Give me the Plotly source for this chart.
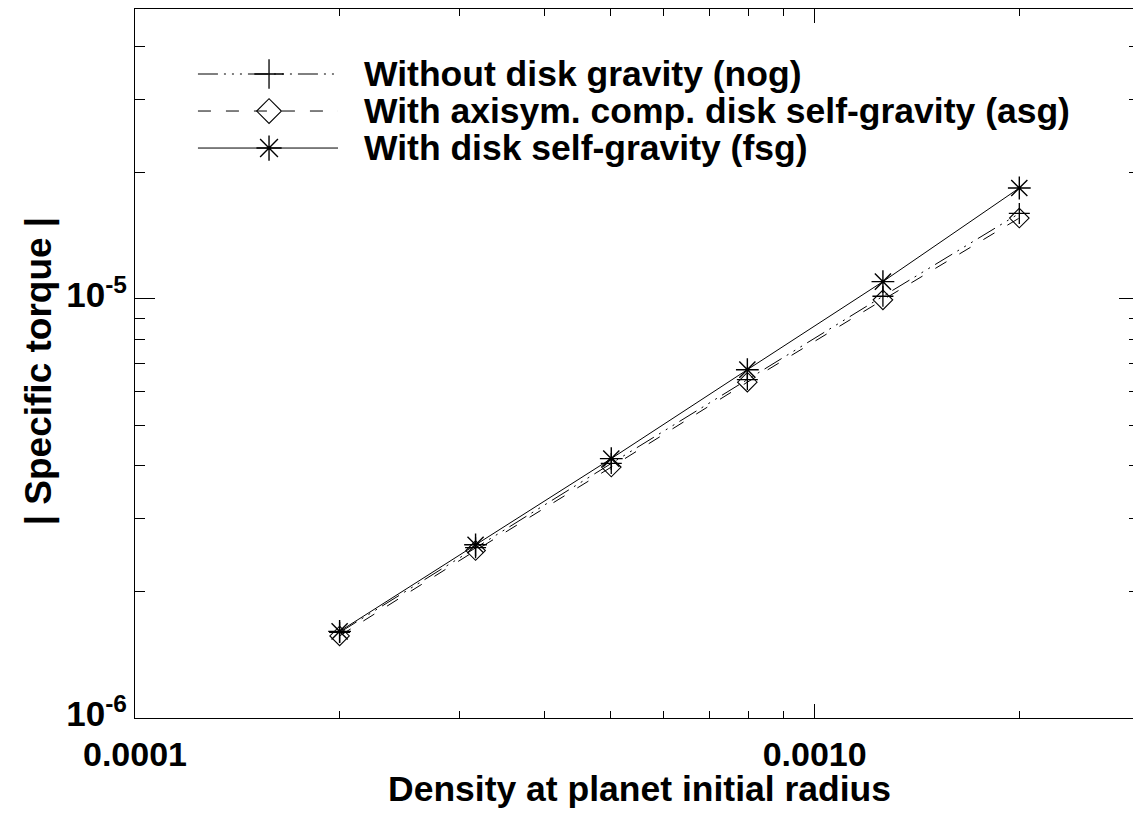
import numpy as np
import plotly.graph_objects as go

# ---- data ----
density = [0.0002, 0.000317, 0.000502, 0.000796, 0.00126, 0.002]
torque_nog = [1.60e-6, 2.55e-6, 4.05e-6, 6.42e-6, 1.015e-5, 1.60e-5]
torque_asg = [1.57e-6, 2.51e-6, 3.97e-6, 6.33e-6, 9.95e-6, 1.56e-5]
torque_fsg = [1.61e-6, 2.59e-6, 4.16e-6, 6.78e-6, 1.10e-5, 1.84e-5]

series_names = [
    "Without disk gravity (nog)",
    "With axisym. comp. disk self-gravity (asg)",
    "With disk self-gravity (fsg)",
]

x_tickvals = [1e-4, 1e-3]
x_ticktext = ["0.0001", "0.0010"]
x_minor = [2e-4, 3e-4, 4e-4, 5e-4, 6e-4, 7e-4, 8e-4, 9e-4, 2e-3]
y_tickvals = [1e-6, 1e-5]
y_ticktext = ["10<sup>-6</sup>", "10<sup>-5</sup>"]
y_minor = [2e-6, 3e-6, 4e-6, 5e-6, 6e-6, 7e-6, 8e-6, 9e-6, 2e-5, 3e-5, 4e-5]

x_range = [1e-4, 3e-3]
y_range = [1e-6, 4.92e-5]

x_title = "Density at planet initial radius"
y_title = "| Specific torque |"

# ---- styles ----
FONT = "Liberation Sans, Arial, Helvetica, sans-serif"
dash_nog = "20px,6px,2px,6px,2px,6px,2px,6px"
dash_asg = "13px,15px"
styles = [
    dict(dash=dash_nog, symbol="cross-thin-open", size=15, lsize=21, mlw=1.3),
    dict(dash=dash_asg, symbol="diamond-open", size=15, lsize=19, mlw=1.1),
    dict(dash="solid", symbol="asterisk-open", size=19, lsize=21, mlw=1.4),
]

fig = go.Figure()
for ys, st in zip([torque_nog, torque_asg, torque_fsg], styles):
    fig.add_trace(go.Scatter(
        x=density, y=ys, mode="lines+markers",
        line=dict(color="black", width=1, dash=st["dash"]),
        marker=dict(symbol=st["symbol"], size=st["size"], color="black",
                    line=dict(color="black", width=st["mlw"])),
        showlegend=False,
    ))

# ---- custom legend (IDL style) ----
leg_x0, leg_x1, leg_xm = 0.0627, 0.2022, 0.1335
leg_text_x = 0.226
leg_rows = [0.9083, 0.8561, 0.8039]
for name, st, yy in zip(series_names, styles, leg_rows):
    fig.add_shape(type="line", xref="paper", yref="paper",
                  x0=leg_x0, x1=leg_x1, y0=yy, y1=yy,
                  line=dict(color="black", width=1, dash=st["dash"]))
    fig.add_trace(go.Scatter(
        x=[leg_xm], y=[yy], xaxis="x2", yaxis="y2", mode="markers",
        marker=dict(symbol=st["symbol"], size=st["lsize"], color="black",
                    line=dict(color="black", width=st["mlw"])),
        showlegend=False, hoverinfo="skip",
    ))
    fig.add_annotation(x=leg_text_x, y=yy, xref="paper", yref="paper",
                       text=name, showarrow=False, xanchor="left", yanchor="middle",
                       font=dict(family=FONT, size=35.5, color="black", weight="bold"))

# ---- axis titles ----
fig.add_annotation(x=0.502, y=-0.100, xref="paper", yref="paper", text=x_title,
                   showarrow=False, xanchor="center", yanchor="middle",
                   font=dict(family=FONT, size=35.5, color="black", weight="bold"))
fig.add_annotation(x=-0.0956, y=0.489, xref="paper", yref="paper", text=y_title,
                   showarrow=False, xanchor="center", yanchor="middle", textangle=-90,
                   font=dict(family=FONT, size=37, color="black", weight="bold"))

axis_common = dict(
    type="log", showgrid=False, zeroline=False, showline=True,
    linecolor="black", linewidth=1, mirror="allticks", ticks="inside",
    tickcolor="black", tickwidth=1,
)

fig.update_layout(
    width=1133, height=806,
    margin=dict(l=127, r=2, t=1, b=96),
    paper_bgcolor="white", plot_bgcolor="white",
    font=dict(family=FONT, color="black"),
    xaxis=dict(
        **axis_common,
        range=[np.log10(x_range[0]), np.log10(x_range[1])],
        tickvals=x_tickvals, ticktext=x_ticktext, ticklen=14,
        ticklabelstandoff=6,
        tickfont=dict(family=FONT, size=34, color="black", weight="bold"),
        minor=dict(tickvals=x_minor, ticklen=7, ticks="inside", tickcolor="black", tickwidth=1),
    ),
    yaxis=dict(
        **axis_common,
        range=[np.log10(y_range[0]), np.log10(y_range[1])],
        tickvals=y_tickvals, ticktext=y_ticktext, ticklen=20,
        ticklabelshift=-4,
        tickfont=dict(family=FONT, size=35, color="black", weight="bold"),
        minor=dict(tickvals=y_minor, ticklen=10, ticks="inside", tickcolor="black", tickwidth=1),
    ),
    xaxis2=dict(overlaying="x", range=[0, 1], visible=False, fixedrange=True),
    yaxis2=dict(overlaying="y", range=[0, 1], visible=False, fixedrange=True),
)

fig.write_html("out.html")
